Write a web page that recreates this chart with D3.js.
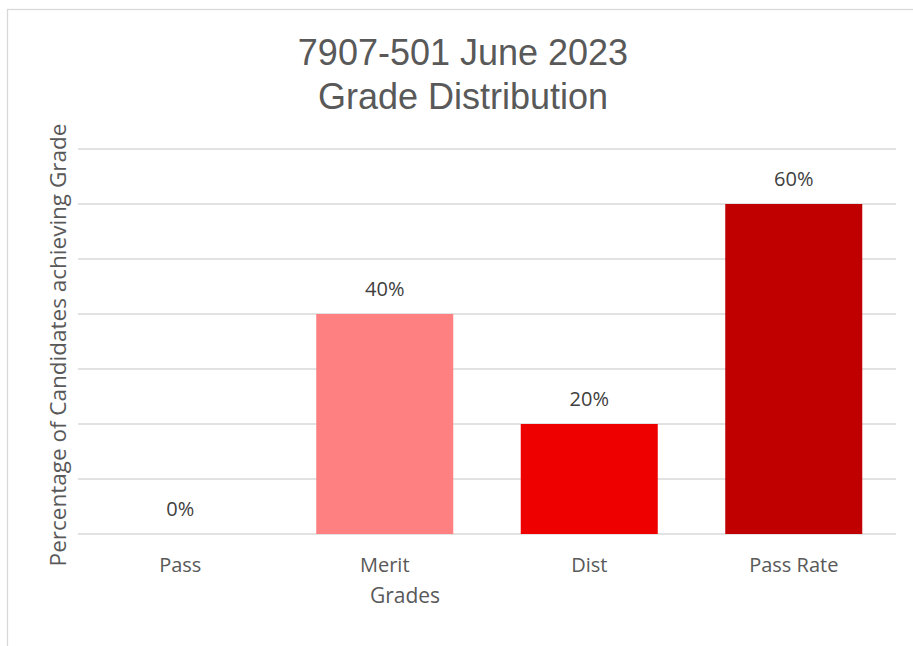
<!DOCTYPE html>
<html><head><meta charset="utf-8">
<script src="https://cdn.jsdelivr.net/npm/d3@7"></script>
<style>body{margin:0;background:#fff;} svg{display:block;}</style>
</head><body>
<svg id="chart" width="913" height="646"></svg>
<script>
const categories = ["Pass", "Merit", "Dist", "Pass Rate"];
const values = [0, 0.4, 0.2, 0.6];
const barColors = ["#FF8080", "#FF8080", "#EE0000", "#C00000"];
const yTicks = [0, 0.1, 0.2, 0.3, 0.4, 0.5, 0.6, 0.7];
const titleLines = ["7907-501 June 2023", "Grade Distribution"];
const xTitle = "Grades";
const yTitle = "Percentage of Candidates achieving Grade";

const svg = d3.select("#chart");
svg.append("rect").attr("x", 7.5).attr("y", 9.5).attr("width", 1000).attr("height", 1000)
  .attr("fill", "#fff").attr("stroke", "#d9d9d9").attr("stroke-width", 1.3);

const x = d3.scaleBand().domain(categories).range([78, 896]).paddingInner(0.33).paddingOuter(0.165);
const y = d3.scaleLinear().domain([0, 0.7]).range([534, 149]);

// gridlines
svg.append("g").selectAll("line").data(yTicks).join("line")
  .attr("x1", 78).attr("x2", 896)
  .attr("y1", d => y(d)).attr("y2", d => y(d))
  .attr("stroke", "#d9d9d9").attr("stroke-width", 1.3);

// bars
svg.append("g").selectAll("rect").data(values).join("rect")
  .attr("x", (d, i) => x(categories[i]))
  .attr("width", x.bandwidth())
  .attr("y", d => y(d))
  .attr("height", d => y(0) - y(d))
  .attr("fill", (d, i) => barColors[i]);

// data labels
const fmt = d3.format(".0%");
svg.append("g").selectAll("text").data(values).join("text")
  .attr("x", (d, i) => x(categories[i]) + x.bandwidth() / 2)
  .attr("y", d => y(d) - 18)
  .attr("text-anchor", "middle")
  .attr("font-family", "'Open Sans', sans-serif").attr("font-size", 20)
  .attr("fill", "#404040")
  .text(d => fmt(d));

// x axis tick labels
const xAxis = d3.axisBottom(x).tickSize(0).tickPadding(0);
const gx = svg.append("g").attr("transform", "translate(0,534)").call(xAxis);
gx.select(".domain").remove();
gx.selectAll("text").attr("dy", null).attr("y", 38)
  .attr("font-family", "'Open Sans', sans-serif").attr("font-size", 20).attr("fill", "#595959");

// title
svg.append("text").attr("text-anchor", "middle")
  .attr("font-family", "'Liberation Sans', Arial, sans-serif").attr("font-size", 36).attr("fill", "#595959")
  .selectAll("tspan").data(titleLines).join("tspan")
  .attr("x", 463).attr("y", (d, i) => 65 + i * 44).text(d => d);

// axis titles
svg.append("text").attr("x", 405).attr("y", 603).attr("text-anchor", "middle")
  .attr("font-family", "'Open Sans', sans-serif").attr("font-size", 21).attr("fill", "#595959").text(xTitle);
svg.append("text").attr("transform", "translate(66,345) rotate(-90)").attr("text-anchor", "middle")
  .attr("font-family", "'Open Sans', sans-serif").attr("font-size", 22.5).attr("fill", "#595959").text(yTitle);
</script>
</body></html>
